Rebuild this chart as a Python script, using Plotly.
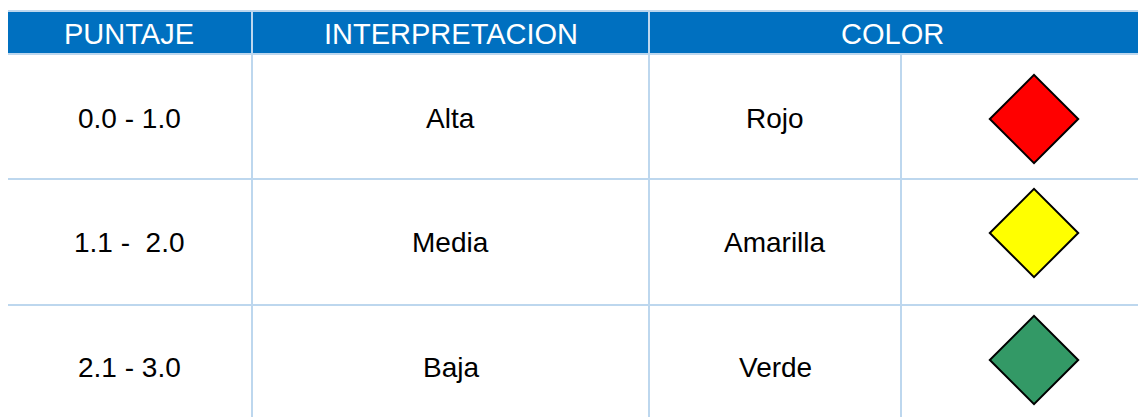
import plotly.graph_objects as go

# ---- data ----
headers = ["PUNTAJE", "INTERPRETACION", "COLOR"]
puntaje = ["0.0 - 1.0", "1.1 -  2.0", "2.1 - 3.0"]
interpretacion = ["Alta", "Media", "Baja"]
color_nombre = ["Rojo", "Amarilla", "Verde"]
color_relleno = ["#FF0000", "#FFFF00", "#339966"]

# ---- layout geometry (pixels in the reference picture) ----
W, H = 1146, 417
PAGE_OFFSET = 8  # browser default body margin
col_edges = [6, 252, 649, 901, 1170]
row_edges = [11, 54, 179, 305, 440]
diamond_y = [119, 233, 360]
header_blue = "#0070C0"
grid = "#BDD7EE"
FONT = "Arial, Liberation Sans, sans-serif"

fig = go.Figure()

shapes = []
shapes.append(dict(type="rect", x0=col_edges[0], x1=col_edges[-1], y0=row_edges[0], y1=row_edges[1],
                   fillcolor=header_blue, line=dict(width=0), layer="below"))
for y in row_edges[:-1]:
    shapes.append(dict(type="line", x0=col_edges[0], x1=col_edges[-1], y0=y, y1=y,
                       line=dict(color=grid, width=2)))
for i, x in enumerate(col_edges[:-1]):
    y0 = row_edges[1] if i == 3 else row_edges[0]
    shapes.append(dict(type="line", x0=x, x1=x, y0=y0, y1=row_edges[-1],
                       line=dict(color=grid, width=2)))

annotations = []
header_x = [(col_edges[0] + col_edges[1]) / 2, (col_edges[1] + col_edges[2]) / 2, 892]
for hx, t in zip(header_x, headers):
    annotations.append(dict(x=hx, y=(row_edges[0] + row_edges[1]) / 2 + 1, text=t, showarrow=False,
                            xanchor="center", yanchor="middle",
                            font=dict(family=FONT, size=29, color="white")))

row_centers = [118, 242, 367]
for r in range(3):
    for c, vals in enumerate([puntaje, interpretacion, color_nombre]):
        xc = (col_edges[c] + col_edges[c + 1]) / 2
        annotations.append(dict(x=xc, y=row_centers[r], text=vals[r].replace("  ", "&nbsp; "),
                                showarrow=False, xanchor="center", yanchor="middle",
                                font=dict(family=FONT, size=28, color="black")))

fig.add_trace(go.Scatter(
    x=[1034] * len(color_relleno), y=diamond_y, mode="markers",
    marker=dict(symbol="diamond", size=68, color=color_relleno,
                line=dict(color="black", width=2)),
    hoverinfo="skip", showlegend=False))

fig.update_layout(
    width=W, height=H, margin=dict(l=0, r=0, t=0, b=0),
    paper_bgcolor="white", plot_bgcolor="white",
    xaxis=dict(range=[PAGE_OFFSET, W + PAGE_OFFSET], visible=False, fixedrange=True),
    yaxis=dict(range=[H + PAGE_OFFSET, PAGE_OFFSET], visible=False, fixedrange=True),
    shapes=shapes, annotations=annotations, showlegend=False,
)

fig.write_html("out.html")
